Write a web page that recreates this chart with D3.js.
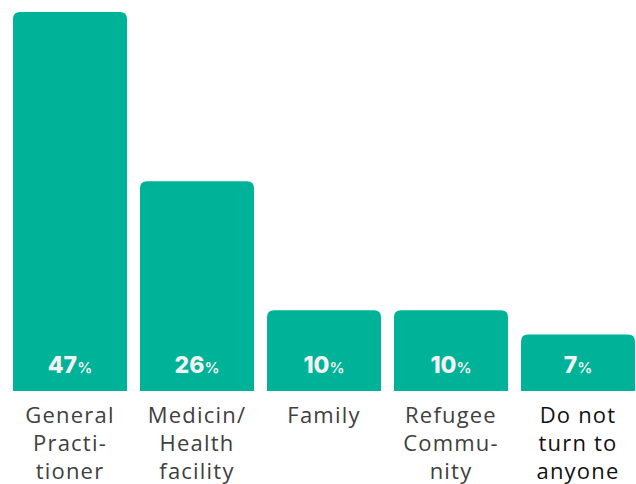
<!DOCTYPE html>
<html>
<head>
<meta charset="utf-8">
<script src="https://cdn.jsdelivr.net/npm/d3@7"></script>
<style>
  html, body { margin: 0; padding: 0; background: #fff; }
  svg { display: block; }
</style>
</head>
<body>
<svg id="chart" width="636" height="484"></svg>
<script>
// Where people turn for help (share of respondents, %)
const categories = ["General Practitioner", "Medicin/ Health facility", "Family", "Refugee Community", "Do not turn to anyone"];
const categoryLines = [
  ["General", "Practi-", "tioner"],
  ["Medicin/", "Health", "facility"],
  ["Family"],
  ["Refugee", "Commu-", "nity"],
  ["Do not", "turn to", "anyone"]
];
const values = [47, 26, 10, 10, 7];
const labelColors = ["#404040", "#404040", "#404040", "#404040", "#111111"];

const svg = d3.select("#chart");
const baseline = 391;

const x = d3.scaleBand()
  .domain(categories)
  .range([13, 635])
  .paddingInner(0.1024)
  .paddingOuter(0);

const y = d3.scaleLinear()
  .domain([0, 47])
  .range([baseline, 12]);

const r = 7;
function topRoundedBar(x0, y0, w, h) {
  const rr = Math.min(r, h, w / 2);
  return `M${x0},${y0 + h}` +
    `V${y0 + rr}` +
    `Q${x0},${y0} ${x0 + rr},${y0}` +
    `H${x0 + w - rr}` +
    `Q${x0 + w},${y0} ${x0 + w},${y0 + rr}` +
    `V${y0 + h}Z`;
}

const data = categories.map((c, i) => ({ c, v: values[i], lines: categoryLines[i], color: labelColors[i] }));

svg.append("g")
  .selectAll("path")
  .data(data)
  .join("path")
  .attr("fill", "#00b398")
  .attr("d", d => topRoundedBar(x(d.c), y(d.v), x.bandwidth(), y(0) - y(d.v)));

// value labels inside the bars
const vl = svg.append("g")
  .selectAll("text")
  .data(data)
  .join("text")
  .attr("x", d => x(d.c) + x.bandwidth() / 2)
  .attr("y", 373)
  .attr("text-anchor", "middle")
  .attr("fill", "#f2f2f2")
  .attr("font-family", "Inter, 'Open Sans', sans-serif");
vl.append("tspan")
  .attr("font-size", 23)
  .attr("font-weight", 800)
  .text(d => d.v);
vl.append("tspan")
  .attr("font-size", 15)
  .attr("font-weight", 600)
  .text("%");

// category labels under the bars
const cl = svg.append("g")
  .selectAll("text")
  .data(data)
  .join("text")
  .attr("text-anchor", "middle")
  .attr("fill", d => d.color)
  .attr("font-family", "'Open Sans', sans-serif")
  .attr("font-size", 22)
  .attr("letter-spacing", 1.2);
cl.selectAll("tspan")
  .data(d => d.lines.map((t, i) => ({ t, i, cx: x(d.c) + x.bandwidth() / 2 })))
  .join("tspan")
  .attr("x", d => d.cx)
  .attr("y", d => 423 + d.i * 28)
  .text(d => d.t);
</script>
</body>
</html>
